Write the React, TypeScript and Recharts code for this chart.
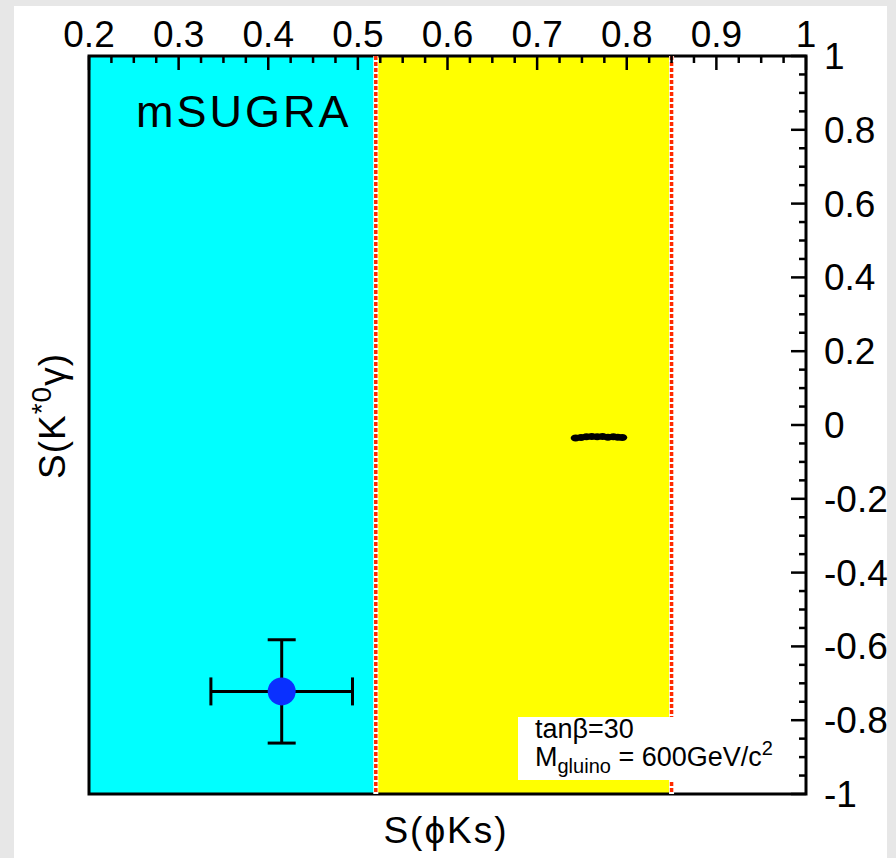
import { ScatterChart, Scatter, XAxis, YAxis, ReferenceArea, ReferenceLine, ErrorBar } from 'recharts';

// axis ticks (major ones get a label)
const xMajorTicks = [0.2, 0.3, 0.4, 0.5, 0.6, 0.7, 0.8, 0.9, 1];
const xMinorTicks = [
  0.225, 0.25, 0.275, 0.325, 0.35, 0.375, 0.425, 0.45, 0.475, 0.525, 0.55, 0.575,
  0.625, 0.65, 0.675, 0.725, 0.75, 0.775, 0.825, 0.85, 0.875, 0.925, 0.95, 0.975,
];
const yMajorTicks = [-1, -0.8, -0.6, -0.4, -0.2, 0, 0.2, 0.4, 0.6, 0.8, 1];
const yMinorTicks = [
  -0.95, -0.9, -0.85, -0.75, -0.7, -0.65, -0.55, -0.5, -0.45, -0.35, -0.3, -0.25,
  -0.15, -0.1, -0.05, 0.05, 0.1, 0.15, 0.25, 0.3, 0.35, 0.45, 0.5, 0.55,
  0.65, 0.7, 0.75, 0.85, 0.9, 0.95,
];

// allowed bands for S(phiKs)
const cyanBand = [0.2, 0.52];
const yellowBand = [0.52, 0.85];
const bandEdges = [0.52, 0.85];

// measurement with errors
const measX = [0.415];
const measY = [-0.722];
const measXErr = [0.079];
const measYErr = [0.14];

// mSUGRA scan points (small black blob)
const scanX = [0.743, 0.749, 0.755, 0.761, 0.767, 0.773, 0.779, 0.785, 0.79, 0.795];
const scanY = [-0.035, -0.034, -0.032, -0.031, -0.032, -0.031, -0.033, -0.032, -0.033, -0.034];

const measData = measX.map((x, i) => ({ x, y: measY[i], ex: measXErr[i], ey: measYErr[i] }));
const scanData = scanX.map((x, i) => ({ x, y: scanY[i] }));

const W = 896;
const H = 858;
const PLOT_TOP = 56;
const PLOT_RIGHT = 806;
const FONT = '"Liberation Sans", Arial, Helvetica, sans-serif';

const TopTick = (props: any) => {
  const { x, payload } = props;
  const v = payload.value;
  const major = xMajorTicks.includes(v);
  return (
    <g>
      <line x1={x} x2={x} y1={PLOT_TOP} y2={PLOT_TOP + (major ? 14 : 7)} stroke="#000" strokeWidth={2.5} />
      {major && (
        <text x={x} y={PLOT_TOP - 9} textAnchor="middle" fontSize={37} fontFamily={FONT} fill="#000">
          {String(v)}
        </text>
      )}
    </g>
  );
};

const RightTick = (props: any) => {
  const { y, payload } = props;
  const v = payload.value;
  const major = yMajorTicks.includes(v);
  return (
    <g>
      <line x1={PLOT_RIGHT - (major ? 15 : 7)} x2={PLOT_RIGHT} y1={y} y2={y} stroke="#000" strokeWidth={2.5} />
      {major && (
        <text x={PLOT_RIGHT + 18} y={y + 13} textAnchor="start" fontSize={37} fontFamily={FONT} fill="#000">
          {String(v)}
        </text>
      )}
    </g>
  );
};

const Dot = (props: any) => <circle cx={props.cx} cy={props.cy} r={14} fill="#0a30ff" />;
const ScanDot = (props: any) => <ellipse cx={props.cx} cy={props.cy} rx={5} ry={3.5} fill="#000" />;

export default function App() {
  return (
    <div style={{ position: 'absolute', left: 0, top: 0, width: W, height: H, background: '#e7e7e7', overflow: 'hidden', fontFamily: FONT }}>
      <div style={{ position: 'absolute', left: 14, top: 6, width: 873, height: 852, background: '#fff' }} />
      <div style={{ position: 'absolute', left: 0, top: 0 }}>
        <ScatterChart width={W} height={H} margin={{ top: 16, right: 30, bottom: 64, left: 89 }}>
          <XAxis
            type="number"
            dataKey="x"
            orientation="top"
            height={40}
            domain={[0.2, 1]}
            ticks={[...xMajorTicks, ...xMinorTicks].sort((a, b) => a - b)}
            interval={0}
            tick={<TopTick />}
            tickLine={false}
            axisLine={false}
            allowDataOverflow
          />
          <YAxis
            type="number"
            dataKey="y"
            orientation="right"
            width={60}
            domain={[-1, 1]}
            ticks={[...yMajorTicks, ...yMinorTicks].sort((a, b) => a - b)}
            interval={0}
            tick={<RightTick />}
            tickLine={false}
            axisLine={false}
            allowDataOverflow
          />
          <ReferenceArea x1={cyanBand[0]} x2={cyanBand[1]} y1={-1} y2={1} fill="#00ffff" fillOpacity={1} stroke="none" />
          <ReferenceArea x1={yellowBand[0]} x2={yellowBand[1]} y1={-1} y2={1} fill="#ffff00" fillOpacity={1} stroke="none" />
          {bandEdges.map((e) => (
            <ReferenceLine key={'w' + e} x={e} stroke="#ffffff" strokeWidth={5} />
          ))}
          {bandEdges.map((e) => (
            <ReferenceLine key={'r' + e} x={e} stroke="#ff2a00" strokeWidth={3.5} strokeDasharray="4 2" />
          ))}
          <ReferenceArea x1={0.2} x2={1} y1={-1} y2={1} fill="none" stroke="#000" strokeWidth={3} ifOverflow="visible" />
          <Scatter data={scanData} shape={<ScanDot />} isAnimationActive={false} />
          <Scatter data={measData} shape={<Dot />} isAnimationActive={false}>
            <ErrorBar dataKey="ex" direction="x" width={14} stroke="#000" strokeWidth={3} isAnimationActive={false} />
            <ErrorBar dataKey="ey" direction="y" width={14} stroke="#000" strokeWidth={3} isAnimationActive={false} />
          </Scatter>
        </ScatterChart>
      </div>

      {/* mSUGRA label */}
      <div style={{ position: 'absolute', left: 136, top: 89, fontSize: 45, letterSpacing: 3, lineHeight: 1, color: '#000' }}>mSUGRA</div>

      {/* parameter box */}
      <div style={{ position: 'absolute', left: 518, top: 717, width: 160, height: 63, background: '#fff' }} />
      <div style={{ position: 'absolute', left: 535, top: 715, fontSize: 27, lineHeight: '28px', color: '#000', whiteSpace: 'nowrap' }}>
        <div>tanβ=30</div>
        <div>
          M<sub style={{ fontSize: 20, verticalAlign: '-7px', lineHeight: 0 }}>gluino</sub> = 600GeV/c
          <sup style={{ fontSize: 20, verticalAlign: '11px', lineHeight: 0 }}>2</sup>
        </div>
      </div>

      {/* axis titles */}
      <div style={{ position: 'absolute', left: 446, top: 830, transform: 'translate(-50%, -50%)', fontSize: 37, letterSpacing: 2, lineHeight: 1, whiteSpace: 'nowrap', color: '#000' }}>
        S(ϕKs)
      </div>
      <div style={{ position: 'absolute', left: 52, top: 416, transform: 'translate(-50%, -50%) rotate(-90deg)', fontSize: 37, letterSpacing: 1, lineHeight: 1, whiteSpace: 'nowrap', color: '#000' }}>
        S(K<sup style={{ fontSize: 28, verticalAlign: '14px', lineHeight: 0 }}>*0</sup>γ)
      </div>
    </div>
  );
}
